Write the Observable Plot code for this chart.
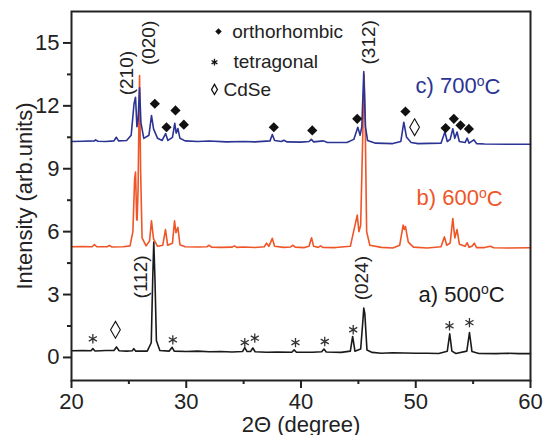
<!DOCTYPE html>
<html>
<head>
<meta charset="utf-8">
<script src="https://cdn.jsdelivr.net/npm/d3@7"></script>
<script src="https://cdn.jsdelivr.net/npm/@observablehq/plot@0.6"></script>
<style>
  html, body { margin: 0; padding: 0; background: #fff; }
</style>
</head>
<body>
<div id="chart"></div>
<script>
// ---- data ----
const xTicks = [20, 30, 40, 50, 60];
const xMinor = [25, 35, 45, 55];
const yTicks = [0, 3, 6, 9, 12, 15];
const yMinor = [1.5, 4.5, 7.5, 10.5, 13.5];

// a) 500 °C
const black500 = [
  [20,0.32],[21,0.33],[21.7,0.32],[21.86,0.42],[22.05,0.31],[23,0.33],[23.7,0.33],[23.92,0.5],[24.15,0.32],
  [24.8,0.3],[25.3,0.32],[25.43,0.42],[25.6,0.3],[26.6,0.3],[26.95,0.7],[27.08,3.8],[27.17,5.5],[27.27,3.8],
  [27.4,0.8],[27.7,0.33],[28.5,0.3],[28.77,0.48],[28.95,0.3],[30,0.28],[31,0.3],[32,0.27],[33,0.28],[34,0.26],
  [34.9,0.28],[35.1,0.47],[35.3,0.28],[35.6,0.28],[35.8,0.45],[36.0,0.27],[37,0.25],[38,0.26],[39.2,0.25],
  [39.4,0.36],[39.6,0.25],[41,0.25],[41.8,0.27],[42.0,0.4],[42.2,0.26],[43.5,0.24],[44.3,0.3],[44.5,1.0],
  [44.7,0.3],[45.2,0.4],[45.4,1.8],[45.47,2.35],[45.56,2.1],[45.75,0.35],[46.2,0.24],[47,0.2],[48,0.22],
  [49,0.21],[50,0.2],[51,0.2],[52,0.19],[52.75,0.3],[52.96,1.13],[53.15,0.3],[53.5,0.19],[54.45,0.3],
  [54.68,1.19],[54.9,0.28],[55.5,0.19],[57,0.18],[58,0.2],[59,0.18],[60,0.18]
];

// b) 600 °C
const red600 = [
  [20,5.28],[21,5.29],[21.8,5.28],[22.0,5.38],[22.2,5.28],[23.1,5.28],[23.3,5.34],[23.5,5.27],[24.5,5.28],
  [25.1,5.32],[25.35,6.0],[25.5,8.5],[25.58,8.84],[25.68,6.6],[25.72,6.55],[25.8,8.0],[25.93,13.45],[26.02,9.0],
  [26.15,5.7],[26.5,5.32],[26.8,5.55],[26.97,6.52],[27.15,5.65],[27.5,5.3],[27.95,5.35],[28.19,6.1],[28.38,5.35],
  [28.8,5.45],[28.98,6.52],[29.1,5.95],[29.27,6.2],[29.45,5.38],[29.9,5.28],[31,5.27],[31.8,5.28],[32.0,5.35],
  [32.2,5.26],[33,5.25],[34.0,5.26],[34.2,5.32],[34.4,5.25],[35,5.27],[36,5.24],[36.8,5.28],[37.0,5.45],
  [37.2,5.3],[37.5,5.68],[37.7,5.3],[38.5,5.25],[39.1,5.27],[39.3,5.35],[39.5,5.26],[40.3,5.24],[40.7,5.3],
  [40.92,5.71],[41.1,5.3],[41.5,5.25],[41.7,5.32],[41.9,5.25],[43,5.24],[44.3,5.3],[44.9,6.79],[45.05,6.0],
  [45.2,6.3],[45.4,11],[45.5,13.5],[45.6,11],[45.72,6],[46,5.35],[47,5.25],[48,5.22],[48.6,5.35],[48.9,6.31],
  [49.0,6.1],[49.1,6.25],[49.35,5.5],[49.8,5.26],[51,5.22],[52.2,5.28],[52.5,5.75],[52.7,5.35],[53.0,5.45],
  [53.23,6.63],[53.4,5.7],[53.6,6.1],[53.8,5.4],[54.3,5.3],[54.48,5.47],[54.65,5.25],[54.9,5.3],[55.1,5.45],
  [55.3,5.24],[56,5.24],[56.5,5.3],[56.8,5.23],[58,5.22],[60,5.23]
];

// c) 700 °C
const blue700 = [
  [20,10.30],[21,10.31],[22,10.33],[22.1,10.38],[22.3,10.31],[23,10.30],[23.7,10.33],[23.9,10.5],[24.1,10.33],
  [24.8,10.35],[25.2,10.6],[25.45,12.1],[25.58,12.41],[25.7,11.0],[25.8,11.3],[25.93,12.86],[26.05,11.2],
  [26.3,10.45],[26.75,10.6],[26.97,11.54],[27.15,10.9],[27.5,10.45],[27.9,10.35],[28.2,10.68],[28.4,10.35],
  [28.8,10.5],[29.0,11.17],[29.12,10.7],[29.27,10.92],[29.45,10.45],[29.9,10.33],[31,10.3],[32,10.32],
  [33.5,10.28],[35,10.3],[36,10.28],[37.3,10.33],[37.5,10.63],[37.7,10.35],[38.3,10.3],[38.5,10.36],
  [38.8,10.28],[40,10.27],[40.7,10.3],[40.9,10.4],[41.1,10.28],[41.96,10.33],[42.3,10.25],[44,10.25],
  [44.6,10.4],[44.95,10.98],[45.15,10.6],[45.3,11.0],[45.47,13.63],[45.62,11.0],[45.8,10.35],[46.5,10.22],
  [48,10.2],[48.7,10.3],[48.96,11.22],[49.2,10.5],[49.6,10.25],[50.2,10.2],[52.2,10.22],[52.54,10.75],
  [52.75,10.3],[53.0,10.4],[53.23,10.91],[53.4,10.45],[53.6,10.75],[53.8,10.3],[54.3,10.25],[54.48,10.46],
  [54.65,10.22],[55.06,10.38],[55.3,10.2],[56,10.18],[58,10.17],[60,10.17]
];

// phase markers (x = 2Θ, y = intensity where marker sits)
const orthoMarks = [
  [27.26,12.1],[28.28,10.98],[29.06,11.78],[29.79,11.1],[37.63,10.98],[40.98,10.83],
  [44.9,11.38],[49.1,11.73],[52.6,10.94],[53.32,11.38],[53.9,11.07],[54.63,10.9]
];
const tetraMarks = [
  [21.86,0.89],[28.83,0.84],[35.1,0.71],[35.97,0.92],[39.52,0.71],[42.07,0.76],
  [44.55,1.32],[52.94,1.51],[54.68,1.66]
];
const cdseMarks = [[49.9,10.98],[23.83,1.32]];

// Miller index labels
const hklLabels = [
  {x:24.85, y:13.56, t:"(210)"},
  {x:26.74, y:15.0,  t:"(020)"},
  {x:45.91, y:15.03, t:"(312)"},
  {x:26.01, y:3.84,  t:"(112)"},
  {x:45.27, y:3.78,  t:"(024)"}
];

// legend
const legendSymbols = [
  {x:32.81, y:15.55, s:"diamond2", fill:"#111"},
  {x:32.46, y:14.08, s:"asterisk", fill:"none"},
  {x:32.46, y:12.78, s:"diamond", fill:"white"}
];
const legendTexts = [
  {x:34.0,  y:15.55, t:"orthorhombic"},
  {x:34.12, y:14.08, t:"tetragonal"},
  {x:33.25, y:12.76, t:"CdSe"}
];

// sample labels
const condLabels = [
  {x:50.24, y:2.66, t:"a) 500", c:"#1a1a1a"},
  {x:50.07, y:7.26, t:"b) 600", c:"#ef5527"},
  {x:49.98, y:12.59, t:"c) 700", c:"#2b3494"}
];

const colBlack = "#1a1a1a", colRed = "#ef5527", colBlue = "#2b3494";

const chart = Plot.plot({
  width: 543,
  height: 435,
  marginLeft: 71,
  marginRight: 13,
  marginTop: 11,
  marginBottom: 55,
  x: {domain: [20, 60]},
  y: {domain: [-1.1, 16.5]},
  style: {fontFamily: "'Liberation Sans', Arial, sans-serif", fontSize: "22px", color: "#222", background: "white"},
  marks: [
    Plot.axisX({ticks: xMinor, tickSize: 4, strokeWidth: 2, tickFormat: () => "", label: null}),
    Plot.axisX({ticks: xTicks, tickSize: 8, tickPadding: 5, strokeWidth: 2, tickFormat: d => String(d),
      label: "2Θ (degree)", labelAnchor: "center", labelOffset: 51, labelArrow: "none"}),
    Plot.axisY({ticks: yMinor, tickSize: 4, strokeWidth: 2, tickFormat: () => "", label: null}),
    Plot.axisY({ticks: yTicks, tickSize: 8, tickPadding: 4, strokeWidth: 2, tickFormat: d => String(d),
      label: "Intensity (arb.units)", labelAnchor: "center", labelOffset: 55, labelArrow: "none"}),
    Plot.line(black500, {x: d => d[0], y: d => d[1], stroke: colBlack, strokeWidth: 1.6}),
    Plot.line(red600, {x: d => d[0], y: d => d[1], stroke: colRed, strokeWidth: 1.6}),
    Plot.line(blue700, {x: d => d[0], y: d => d[1], stroke: colBlue, strokeWidth: 1.6}),
    Plot.dot(orthoMarks, {x: d => d[0], y: d => d[1], symbol: "diamond2", r: 4.6, fill: "#111", stroke: "none"}),
    Plot.dot(tetraMarks, {x: d => d[0], y: d => d[1], symbol: "asterisk", r: 4.4, stroke: "#333", strokeWidth: 1.3}),
    Plot.dot(cdseMarks, {x: d => d[0], y: d => d[1], symbol: "diamond", r: 5.1, fill: "white", stroke: "#111", strokeWidth: 1.1}),
    Plot.text(hklLabels, {x: "x", y: "y", text: "t", rotate: -90, fontSize: 19, fill: "#222", textAnchor: "middle"}),
    Plot.dot(legendSymbols, {x: "x", y: "y", symbol: "s", r: d => d.s === "diamond2" ? 4.6 : (d.s === "diamond" ? 5.1 : 5.4),
      fill: "fill", stroke: d => d.s === "diamond2" ? "none" : "#111", strokeWidth: 1.3}),
    Plot.text(legendTexts, {x: "x", y: "y", text: "t", textAnchor: "start", fontSize: 19, fill: "#222"}),
    Plot.text(condLabels, {x: "x", y: "y", text: "t", textAnchor: "start", lineAnchor: "bottom", fontSize: 22,
      fill: "c"}),
    Plot.frame({stroke: "#222", strokeWidth: 2})
  ]
});

document.getElementById("chart").appendChild(chart);

// add superscript "o" + "C" to the temperature labels
const condNames = new Set(condLabels.map(d => d.t));
d3.select(chart).selectAll("text").each(function() {
  const el = d3.select(this);
  if (this.childElementCount > 0) return;
  const base = el.text();
  if (!condNames.has(base)) return;
  el.text("");
  el.append("tspan").text(base);
  el.append("tspan").attr("font-size", "14px").attr("dy", "-0.55em").text("o");
  el.append("tspan").attr("dy", "0.37em").text("C");
});
</script>
</body>
</html>
